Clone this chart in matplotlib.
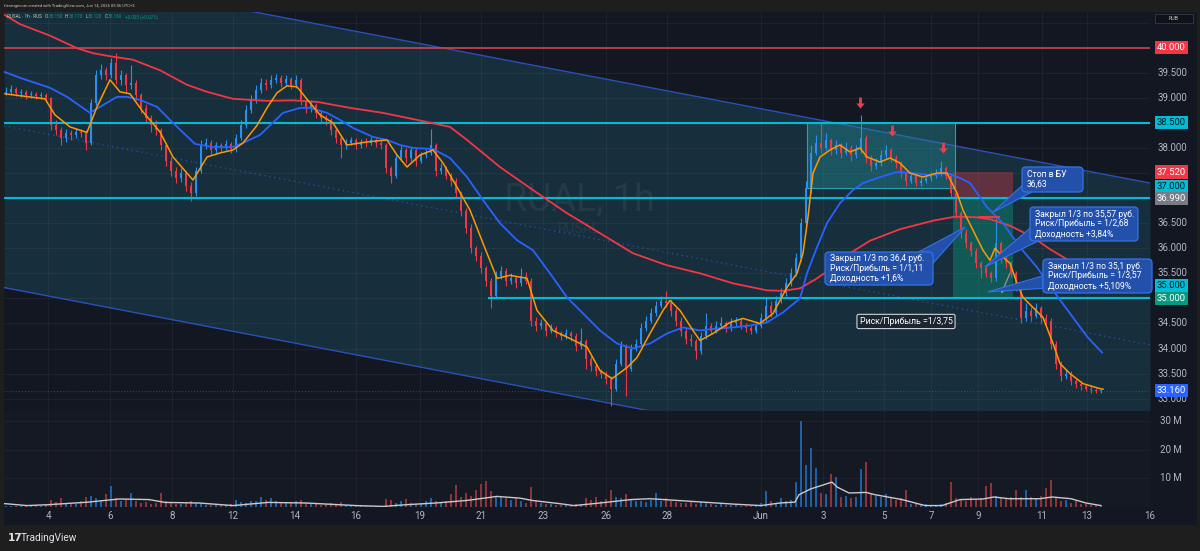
import matplotlib
matplotlib.use("Agg")
import matplotlib.pyplot as plt
import matplotlib.transforms as mtrans
from matplotlib.patches import Rectangle, FancyBboxPatch, Polygon
from matplotlib.path import Path
import numpy as np

plt.rcParams['font.family'] = ['Roboto', 'DejaVu Sans']

# ---------------- data (hourly RUSAL) ----------------
first_open = 39.10
closes = [39.12, 39.18, 39.10, 39.12, 39.05, 39.08, 39.04, 39.06, 39.00,
          38.45, 38.35, 38.20, 38.30, 38.25, 38.32, 38.30, 38.10,
          38.90, 39.45, 39.55, 39.45, 39.70, 39.35, 39.45, 39.25, 39.30,
          39.05, 38.80, 38.60, 38.45, 38.35, 38.05, 37.75, 37.55, 37.40, 37.50, 37.25, 37.10,
          37.55, 38.05, 38.10, 37.95, 38.05, 38.00, 38.08, 37.98,
          38.20, 38.45, 38.75, 38.95, 39.15, 39.30, 39.25, 39.35, 39.40, 39.30, 39.38, 39.25, 39.35,
          38.95, 38.80, 38.85, 38.70, 38.60, 38.55, 38.35, 38.20, 38.05,
          38.10, 38.15, 38.05, 38.12, 38.10, 38.15, 38.10, 38.05,
          37.60, 37.45, 37.80, 37.95, 37.80, 37.95, 37.75, 37.85, 37.90, 38.05,
          37.55, 37.60, 37.45, 37.35, 37.10, 36.75, 36.40, 36.00, 35.85, 35.60, 35.35, 35.05,
          35.45, 35.55, 35.35, 35.40, 35.30, 35.45, 35.35,
          34.55, 34.45, 34.50, 34.35, 34.40, 34.30, 34.25, 34.30, 34.25, 34.05, 34.15,
          33.80, 33.65, 33.55, 33.50, 33.40, 33.20,
          33.70, 34.05, 33.60, 34.00, 34.10, 34.40, 34.55, 34.70, 34.85, 34.95, 34.90, 34.75, 34.55, 34.35,
          34.20, 34.15, 33.95, 34.25, 34.45, 34.35, 34.45, 34.50, 34.40, 34.50, 34.55, 34.45, 34.40, 34.35, 34.45,
          34.60, 34.85, 34.70, 34.95, 35.10, 35.30, 35.50, 35.80,
          36.50, 37.20, 37.90, 38.10, 38.00, 38.15, 37.95, 38.05, 37.90, 38.00, 37.85, 37.95,
          38.20, 37.80, 37.65, 37.70, 37.85, 37.95, 37.80, 37.70, 37.50, 37.35,
          37.45, 37.30, 37.35, 37.40, 37.45, 37.50, 37.60, 37.45,
          37.10, 36.70, 36.30, 36.10, 35.95, 35.70, 35.60, 35.50, 35.40, 36.10, 35.80,
          35.70, 35.50, 35.25, 34.60, 34.75, 34.65, 34.80, 34.60, 34.55, 34.10, 33.70, 33.45, 33.50,
          33.35, 33.30, 33.25, 33.20, 33.18, 33.15, 33.16]
highs = [39.22, 39.25, 39.22, 39.18, 39.15, 39.14, 39.12, 39.12, 39.10,
         39.02, 38.55, 38.42, 38.38, 38.36, 38.40, 38.38, 38.35,
         38.98, 39.55, 39.68, 39.62, 39.80, 39.90, 39.55, 39.50, 39.65,
         39.35, 39.10, 38.88, 38.65, 38.55, 38.40, 38.10, 37.82, 37.62, 37.60, 37.55, 37.32,
         37.62, 38.15, 38.20, 38.15, 38.12, 38.10, 38.15, 38.12,
         38.28, 38.55, 38.85, 39.05, 39.25, 39.40, 39.38, 39.45, 39.48, 39.45, 39.45, 39.42, 39.45,
         39.40, 39.00, 38.95, 38.90, 38.75, 38.65, 38.60, 38.40, 38.25,
         38.18, 38.22, 38.20, 38.18, 38.20, 38.22, 38.20, 38.18,
         38.10, 37.65, 37.88, 38.05, 38.00, 38.02, 38.00, 37.92, 37.98, 38.38,
         38.10, 37.70, 37.65, 37.50, 37.40, 37.15, 36.80, 36.48, 36.05, 35.92, 35.65, 35.40,
         35.55, 35.65, 35.60, 35.50, 35.45, 35.60, 35.52,
         35.40, 34.62, 34.58, 34.55, 34.48, 34.45, 34.35, 34.38, 34.35, 34.30, 34.40,
         34.20, 33.85, 33.70, 33.60, 33.55, 33.45,
         33.80, 34.15, 34.10, 34.10, 34.20, 34.50, 34.65, 34.80, 34.95, 35.05, 35.15, 34.98, 34.80, 34.62,
         34.40, 34.28, 34.20, 34.32, 34.70, 34.50, 34.55, 34.62, 34.55, 34.60, 34.62, 34.60, 34.50, 34.45, 34.52,
         34.70, 35.00, 34.95, 35.05, 35.20, 35.40, 35.60, 35.90,
         36.60, 37.35, 38.05, 38.25, 38.50, 38.30, 38.20, 38.15, 38.10, 38.12, 38.05, 38.05,
         38.65, 38.25, 37.85, 37.80, 37.95, 38.05, 38.00, 37.85, 37.75, 37.55,
         37.52, 37.50, 37.42, 37.48, 37.52, 37.58, 37.75, 37.65,
         37.50, 37.15, 36.75, 36.38, 36.15, 36.00, 35.75, 35.65, 35.55, 36.60, 36.15,
         35.85, 35.75, 35.55, 35.30, 34.90, 34.82, 34.90, 34.85, 34.68, 34.60, 34.15, 33.75, 33.60,
         33.55, 33.40, 33.35, 33.30, 33.25, 33.22, 33.17]
lows = [39.05, 39.08, 39.04, 39.02, 38.98, 39.00, 38.98, 38.98, 38.92,
        38.35, 38.25, 38.05, 38.12, 38.15, 38.20, 38.22, 37.95,
        38.05, 38.85, 39.38, 39.35, 39.40, 39.28, 39.25, 39.12, 39.18,
        38.95, 38.70, 38.50, 38.32, 38.25, 37.95, 37.65, 37.45, 37.30, 37.32, 37.15, 36.95,
        37.05, 37.50, 37.98, 37.88, 37.90, 37.92, 37.95, 37.90,
        37.92, 38.15, 38.40, 38.70, 38.90, 39.10, 39.15, 39.20, 39.30, 39.22, 39.25, 39.18, 39.20,
        38.85, 38.70, 38.72, 38.60, 38.50, 38.45, 38.25, 38.10, 37.80,
        37.98, 38.05, 37.98, 38.00, 38.02, 38.05, 38.02, 37.98,
        37.50, 37.30, 37.40, 37.75, 37.70, 37.75, 37.65, 37.70, 37.80, 37.85,
        37.45, 37.48, 37.38, 37.25, 37.00, 36.65, 36.30, 35.90, 35.75, 35.50, 35.25, 34.80,
        35.00, 35.38, 35.25, 35.28, 35.20, 35.25, 35.28,
        34.45, 34.35, 34.38, 34.25, 34.30, 34.22, 34.18, 34.20, 34.15, 33.95, 34.00,
        33.60, 33.55, 33.45, 33.42, 33.30, 32.85,
        33.15, 33.65, 33.05, 33.55, 33.95, 34.05, 34.35, 34.50, 34.65, 34.80, 34.82, 34.65, 34.45, 34.25,
        34.10, 34.05, 33.80, 33.90, 34.20, 34.28, 34.30, 34.40, 34.32, 34.35, 34.45, 34.38, 34.32, 34.28, 34.30,
        34.40, 34.55, 34.62, 34.65, 34.90, 35.05, 35.25, 35.45,
        35.75, 36.45, 37.10, 37.85, 37.90, 37.95, 37.85, 37.88, 37.80, 37.85, 37.75, 37.80,
        37.90, 37.70, 37.55, 37.58, 37.65, 37.80, 37.72, 37.60, 37.40, 37.25,
        37.30, 37.25, 37.25, 37.30, 37.35, 37.40, 37.45, 37.38,
        37.00, 36.60, 36.20, 36.00, 35.85, 35.60, 35.40, 35.42, 35.32, 35.35, 35.70,
        35.60, 35.42, 35.15, 34.50, 34.55, 34.55, 34.60, 34.50, 34.45, 34.00, 33.60, 33.35, 33.40,
        33.28, 33.22, 33.18, 33.15, 33.12, 33.12, 33.12]
volumes = [0.4, 0.3, 0.3, 0.4, 0.3, 0.2, 0.3, 0.4, 0.6,
           2.5, 1.8, 3.0, 1.5, 1.2, 1.0, 2.0, 3.5,
           4.0, 3.2, 2.5, 4.5, 7.4, 3.0, 2.0, 2.5, 4.8,
           2.0, 1.5, 1.8, 1.2, 1.5, 4.8, 2.0, 1.5, 1.2, 1.0, 1.4, 2.2,
           1.5, 1.2, 0.8, 0.7, 0.6, 0.8, 0.7, 0.9,
           2.6, 1.8, 1.5, 2.0, 2.2, 3.5, 2.5, 3.0, 2.0, 1.5, 1.8, 1.5, 2.0,
           2.5, 1.5, 1.2, 1.0, 0.8, 1.0, 1.5, 1.2, 1.8,
           0.8, 0.6, 0.5, 0.6, 0.4, 0.5, 0.4, 0.5,
           2.8, 2.5, 1.5, 2.0, 2.8, 1.5, 1.2, 1.0, 2.0, 3.0,
           2.0, 1.5, 2.2, 4.5, 7.8, 3.5, 5.0, 4.0, 6.0, 8.0, 9.2, 5.5,
           4.0, 3.5, 3.0, 2.5, 3.2, 2.0, 1.5,
           6.9, 2.5, 1.5, 1.2, 1.0, 0.8, 0.7, 0.8, 0.6, 1.2, 1.0,
           3.0, 2.5, 3.5, 2.0, 2.8, 6.0,
           3.5, 3.0, 4.5, 2.5, 2.0, 2.2, 1.8, 2.5, 4.8, 2.0, 3.0, 2.0, 1.8, 1.5,
           1.5, 2.0, 1.2, 1.8, 1.5, 1.0, 0.8, 1.0, 0.7, 0.8, 0.6, 0.5, 0.5, 0.4, 0.6,
           1.5, 5.5, 2.0, 1.5, 3.0, 2.0, 2.5, 8.6,
           30.0, 14.8, 20.8, 13.6, 5.0, 4.5, 11.6, 10.5, 3.5, 4.0, 3.0, 3.5,
           13.4, 15.7, 5.0, 4.0, 3.5, 4.5, 3.0, 2.5, 3.0, 6.0,
           1.2, 1.0, 0.8, 1.0, 0.7, 0.8, 1.2, 1.5,
           8.7, 3.0, 2.5, 2.0, 3.5, 2.8, 3.0, 7.4, 8.4, 4.0, 3.5,
           3.0, 3.5, 6.0, 3.5, 6.0, 3.5, 3.0, 4.0, 6.6, 9.3, 3.0, 2.0, 2.5,
           1.5, 2.0, 1.2, 1.0, 0.8, 0.6, 0.5]

# moving averages (x = bar index)
ema_fast_x = [-0.2, 7.8, 9.8, 12.8, 16.2, 18.2, 20.8, 22.8, 24.8, 27.4, 30.8, 33.4, 37.4, 40.2, 42.8,
              45.4, 47.4, 50.2, 52.2, 54.2, 56.2, 58.2, 60.8, 62.8, 65.4, 68.2, 72.2, 76.2, 78.2, 80.2,
              82.8, 85.4, 87.4, 90.2, 92.8, 95.4, 98.2, 100.8, 104.2, 106.2, 109.4, 112.8, 116.2, 118.8,
              121.2, 124.2, 126.2, 128.8, 131.4, 132.8, 134.8, 137.4, 138.8, 141.4, 144.8, 147.4, 150.8,
              153.4, 156.2, 158.2, 159.4, 160.4, 161.4, 162.8, 164.8, 166.8, 168.8, 170.8, 172.2, 174.8,
              176.8, 178.8, 180.8, 183.4, 186.2, 188.2, 190.2, 191.4, 193.4, 195.4, 196.8, 197.8, 199.4,
              200.8, 202.2, 203.4, 205.4, 207.4, 209.4, 210.8, 212.8, 215.4, 218.8, 219.4]
ema_fast_y = [39.08, 38.98, 38.66, 38.42, 38.31, 38.82, 39.36, 39.12, 39.08, 38.72, 38.32, 37.82, 37.36,
              37.82, 37.90, 37.96, 38.10, 38.45, 38.80, 39.10, 39.24, 39.22, 38.90, 38.66, 38.50, 38.06,
              38.12, 38.16, 37.86, 37.62, 37.86, 37.96, 37.70, 37.22, 36.76, 36.10, 35.40, 35.46, 35.40,
              34.76, 34.36, 34.20, 34.03, 33.56, 33.40, 33.62, 33.82, 34.30, 34.76, 34.96, 34.76, 34.36,
              34.16, 34.30, 34.52, 34.60, 34.50, 34.70, 35.22, 35.50, 35.90, 36.62, 37.50, 37.82, 37.96,
              38.06, 37.92, 38.00, 37.82, 37.72, 37.80, 37.70, 37.50, 37.42, 37.50, 37.50, 37.10, 36.76,
              36.36, 35.96, 35.76, 36.00, 35.82, 35.70, 35.30, 35.02, 34.82, 34.62, 34.10, 33.70, 33.50,
              33.30, 33.20, 33.19]
ma_mid_x = [-0.4, 2.8, 8.8, 12.2, 16.8, 18.8, 22.2, 24.2, 26.8, 30.2, 33.4, 37.8, 41.4, 45.4, 47.4, 50.8,
            55.4, 58.8, 60.8, 64.2, 66.8, 69.4, 73.4, 76.2, 78.8, 81.4, 85.4, 88.8, 92.2, 95.4, 98.8,
            102.2, 105.4, 108.8, 112.2, 115.4, 118.8, 122.2, 125.4, 128.8, 132.2, 135.4, 138.8, 142.2,
            145.4, 148.8, 152.2, 155.4, 158.8, 160.2, 162.2, 164.2, 166.8, 169.4, 171.4, 174.8, 178.2,
            181.4, 184.8, 188.2, 190.8, 192.8, 196.2, 199.4, 202.8, 206.2, 209.4, 212.8, 216.2, 219.2]
ma_mid_y = [39.52, 39.40, 39.20, 39.02, 38.70, 38.82, 39.02, 39.02, 38.96, 38.82, 38.50, 38.08, 38.02,
            38.02, 38.10, 38.26, 38.70, 38.80, 38.80, 38.70, 38.56, 38.40, 38.22, 38.16, 38.06, 38.00,
            37.98, 37.80, 37.42, 36.96, 36.50, 36.16, 35.96, 35.50, 35.02, 34.70, 34.36, 34.10, 34.00,
            34.10, 34.30, 34.42, 34.36, 34.40, 34.42, 34.46, 34.52, 34.72, 35.00, 35.50, 36.02, 36.50,
            36.90, 37.16, 37.30, 37.42, 37.52, 37.50, 37.46, 37.50, 37.40, 37.30, 36.82, 36.50, 36.02,
            35.62, 35.16, 34.70, 34.24, 33.92]
ma_slow_x = [-0.4, 2.8, 8.8, 14.2, 17.4, 20.8, 25.4, 30.8, 36.2, 40.2, 45.4, 52.2, 57.4, 62.2, 68.8, 75.4,
             82.2, 88.8, 92.2, 98.8, 105.4, 112.2, 118.8, 125.4, 132.2, 138.8, 145.4, 152.2, 155.4,
             158.8, 162.2, 165.4, 168.8, 172.8, 178.8, 185.4, 189.8, 193.8, 196.8, 200.8, 205.4, 208.8,
             212.2, 215.8, 219.4]
ma_slow_y = [40.66, 40.47, 40.24, 39.99, 39.89, 39.83, 39.76, 39.55, 39.26, 39.12, 38.98, 38.94, 38.95,
             38.92, 38.80, 38.70, 38.56, 38.42, 38.16, 37.62, 37.16, 36.70, 36.30, 35.90, 35.66, 35.50,
             35.30, 35.16, 35.15, 35.20, 35.40, 35.62, 35.90, 36.15, 36.38, 36.55, 36.63, 36.62, 36.58,
             36.45, 36.22, 35.98, 35.78, 35.52, 35.32]
vol_ma_x = [-0.4, 4.2, 8.4, 16.4, 22.6, 28.6, 31.8, 38.6, 45.4, 52.4, 60.0, 70.0, 75.4, 80.0, 86.0, 92.2,
            98.2, 102.8, 105.2, 110.6, 113.6, 118.8, 125.0, 128.8, 134.2, 145.6, 151.0, 154.8, 157.8,
            158.6, 160.9, 165.2, 166.2, 168.6, 172.0, 173.8, 179.2, 183.8, 187.2, 190.8, 195.4, 197.6,
            200.6, 206.8, 209.2, 213.0, 216.0, 219.0]
vol_ma_y = [1.2, 0.5, 0.8, 1.7, 2.8, 2.6, 1.6, 1.4, 0.5, 1.6, 1.4, 0.5, 0.2, 0.8, 1.4, 2.3, 3.7, 3.1, 2.3,
            1.2, 0.5, 1.4, 2.6, 2.9, 2.3, 1.0, 0.5, 1.4, 1.7, 4.3, 6.3, 8.7, 7.0, 4.9, 5.1, 4.3, 2.6, 0.5,
            0.5, 2.6, 2.8, 3.5, 2.9, 2.9, 3.5, 2.9, 1.4, 0.5]

# drawings
channel_x = [49.8, 228.8]
channel_top = [40.71, 37.30]
channel_width = 6.45
hlevels_full = [38.5, 37.0]
hlevel_ray = (96.4, 35.0)
box_range = (160.2, 189.8, 37.2, 38.5)
pos_x = (189.4, 201.4)
pos_stop, pos_entry, pos_target = 37.52, 36.99, 35.0
be_stop = (194.4, 198.8, 36.63)
marks_x = [170.8, 177.2, 187.4]
marks_y = [38.88, 38.32, 37.98]

callouts = [
    # (x0, x1, y0, y1, base points, apex, text)
    (203.2, 215.4, 37.122, 37.621, [(203.2, 37.25), (205.2, 37.122)], (197.4, 36.72),
     "Стоп в БУ\n36,63"),
    (204.8, 226.4, 36.145, 36.823, [(204.8, 36.40), (206.5, 36.145)], (195.8, 35.63),
     "Закрыл 1/3 по 35,57 руб.\nРиск/Прибыль = 1/2,68\nДоходность +3,84%"),
    (207.4, 229.2, 35.108, 35.786, [(207.4, 35.45), (207.4, 35.20)], (196.4, 35.13),
     "Закрыл 1/3 по 35,1 руб.\nРиск/Прибыль = 1/3,57\nДоходность +5,109%"),
    (163.8, 185.4, 35.267, 35.925, [(182.5, 35.925), (185.4, 35.70)], (191.8, 36.42),
     "Закрыл 1/3 по 36,4 руб.\nРиск/Прибыль = 1/1,11\nДоходность +1,6%"),
]

price_ticks = [39.5, 39.0, 38.0, 36.5, 36.0, 35.5, 34.5, 34.0, 33.5, 33.0]
price_tags = [(40.0, '40.000', '#f23645', 'white'), (38.5, '38.500', '#00bcd4', '#131722'),
              (37.52, '37.520', '#f23645', 'white'), (37.228, '37.000', '#00bcd4', '#131722'),
              (36.99, '36.990', '#787b86', 'white'), (35.253, '35.000', '#00bcd4', '#131722'),
              (35.0, '35.000', '#089981', 'white'), (33.16, '33.160', '#2962ff', 'white')]
tick_pos = [8.4, 20.8, 33.2, 45.4, 57.8, 70.0, 82.8, 95.0, 107.4, 120.0, 132.2, 151.0, 163.4,
            175.6, 185.0, 194.4, 207.2, 216.2, 228.8]
tick_lab = ['4', '6', '8', '12', '14', '16', '19', '21', '23', '26', '28', 'Jun', '3', '5', '7',
            '9', '11', '13', '16']

# ---------------- figure ----------------
W, H = 1200, 551
BG = '#131722'


def fbox(x0, y0, x1, y1):
    return [x0 / W, 1 - y1 / H, (x1 - x0) / W, (y1 - y0) / H]


fig = plt.figure(figsize=(W / 100, H / 100), dpi=100, facecolor='#1e1e1e')
fig.patches.append(Rectangle((4 / W, 1 - 525 / H), 1193 / W, 513 / H, transform=fig.transFigure,
                             fc=BG, ec='none', zorder=-5))
ax = fig.add_axes(fbox(4, 12, 1150, 410))
vax = fig.add_axes(fbox(4, 411, 1150, 507))
for a in (ax, vax):
    a.set_xlim(-0.4, 228.8)
    a.set_xticks([])
    a.set_yticks([])
    for s in a.spines.values():
        s.set_visible(False)
ax.set_facecolor(BG)
vax.set_facecolor('#151924')
ax.set_ylim(32.774, 40.712)
vax.set_ylim(0, 33.57)

# channel
xs = np.array([-0.4, 228.8])
slope = (channel_top[1] - channel_top[0]) / (channel_x[1] - channel_x[0])
upper = channel_top[0] + slope * (xs - channel_x[0])
lower = upper - channel_width
ax.fill_between(xs, lower, upper, color='#172f3c', lw=0, zorder=0.2)
ax.plot(xs, upper, color='#2b4fb5', lw=1, zorder=1)
ax.plot(xs, lower, color='#2b4fb5', lw=1, zorder=1)
ax.plot(xs, (upper + lower) / 2, color='#2b4fb5', lw=0.9, ls=(0, (1, 3)), zorder=1)

# grid
for p in tick_pos:
    ax.axvline(p, color=(1, 1, 1, 0.045), lw=0.8, zorder=0.5)
    vax.axvline(p, color=(1, 1, 1, 0.045), lw=0.8, zorder=0.5)
for p in np.arange(33.0, 40.6, 0.5):
    ax.axhline(p, color=(1, 1, 1, 0.045), lw=0.8, zorder=0.5)
for v in (10, 20, 30):
    vax.axhline(v, color=(1, 1, 1, 0.045), lw=0.8, zorder=0.5)

# watermark
ax.text(114.6, 36.96, 'RUAL, 1h', fontsize=27, color=(1, 1, 1, 0.06), ha='center', va='center', zorder=1)
ax.text(114.6, 36.39, 'RUSAL', fontsize=10, color=(1, 1, 1, 0.06), ha='center', va='center', zorder=1)

# consolidation box and short position
bx0, bx1, by0, by1 = box_range
ax.add_patch(Rectangle((bx0, by0), bx1 - bx0, by1 - by0, fc=(0.14, 0.55, 0.6, 0.42),
                       ec='#2a9fb0', lw=0.8, zorder=2))
ax.add_patch(Rectangle((pos_x[0], pos_entry), pos_x[1] - pos_x[0], pos_stop - pos_entry,
                       fc=(0.95, 0.21, 0.27, 0.34), ec='none', zorder=2))
ax.add_patch(Rectangle((pos_x[0], pos_target), pos_x[1] - pos_x[0], pos_entry - pos_target,
                       fc=(0.03, 0.6, 0.5, 0.4), ec='none', zorder=2))

# horizontal levels
ax.axhline(40.0, color='#d0424d', lw=1.2, zorder=5)
for lv in hlevels_full:
    ax.axhline(lv, color='#00bcd4', lw=1.5, zorder=5)
ax.hlines(hlevel_ray[1], hlevel_ray[0], 228.8, color='#00bcd4', lw=1.5, zorder=5)
ax.axhline(closes[-1], color='#2962ff', lw=0.7, ls=(0, (1, 2)), alpha=0.6, zorder=1)

# candles
n = len(closes)
idx = np.arange(n)
c = np.array(closes)
o = np.r_[first_open, c[:-1]]
up = c >= o
ccol = np.where(up, '#2a8ff0', '#f23645')
ax.vlines(idx, lows, highs, colors=ccol, lw=0.8, zorder=4)
ax.bar(idx, np.maximum(np.abs(c - o), 0.015), bottom=np.minimum(o, c), width=0.5,
       color=ccol, lw=0, zorder=4)

# moving averages
ax.plot(ma_slow_x, ma_slow_y, color='#f23645', lw=1.3, zorder=6)
ax.plot(ma_mid_x, ma_mid_y, color='#2962ff', lw=1.3, zorder=6)
ax.plot(ema_fast_x, ema_fast_y, color='#ff9800', lw=1.1, zorder=6)

# breakeven stop + gray arrow
ax.hlines(be_stop[2], be_stop[0], be_stop[1], color='#f23645', lw=1.5, zorder=7)
ax.annotate('', xy=(198.8, 35.04), xytext=(201.0, 35.55),
            arrowprops=dict(arrowstyle='->', color='#a88f8f', lw=0.9, mutation_scale=7), zorder=7)

# red arrow marks
arrow_path = Path([(-0.2, 1.0), (0.2, 1.0), (0.2, 0.15), (0.6, 0.15), (0.0, -0.6),
                   (-0.6, 0.15), (-0.2, 0.15), (-0.2, 1.0)],
                  [Path.MOVETO] + [Path.LINETO] * 6 + [Path.CLOSEPOLY])
ax.plot(marks_x, marks_y, ls='none', marker=arrow_path, ms=10, color='#e5404e', mec='none', zorder=8)

# callouts
for x0, x1, y0, y1, base, apex, txt in callouts:
    ax.add_patch(Polygon(base + [apex], closed=True, fc='#2250aa', ec='#3572e6', lw=0.8,
                         zorder=8, clip_on=False))
    ax.add_patch(FancyBboxPatch((x0, y0), x1 - x0, y1 - y0,
                                boxstyle='round,pad=0,rounding_size=0.8', mutation_aspect=0.1,
                                fc='#2250aa', ec='#3572e6', lw=0.9, zorder=9, clip_on=False))
    ax.text(x0 + 1.0, (y0 + y1) / 2, txt, color='white', fontsize=6.2, va='center', ha='left',
            linespacing=1.1, zorder=10, clip_on=False)
ax.text(180.0, 34.54, 'Риск/Прибыль =1/3,75', color='white', fontsize=6.3, ha='center', va='center',
        zorder=10, bbox=dict(boxstyle='round,pad=0.3,rounding_size=0.2', fc='#1b2631', ec='#cfd3da', lw=0.8))

# volume
vcol = np.where(up, '#1f5fa6', '#8c343a')
vax.bar(idx, volumes, width=0.55, color=vcol, lw=0, zorder=2)
vax.plot(vol_ma_x, vol_ma_y, color='#c9c9c9', lw=1, zorder=3)

# price axis
tr = mtrans.blended_transform_factory(ax.transAxes, ax.transData)
for p in price_ticks:
    ax.text((1158 - 4) / 1146, p, f'{p:.3f}', transform=tr, color='#b2b5be', fontsize=7,
            va='center', ha='left', clip_on=False, zorder=10)
for p, t, bg, fg in price_tags:
    ax.text((1157 - 4) / 1146, p, t, transform=tr, color=fg, fontsize=6.8, va='center', ha='left',
            clip_on=False, zorder=11, bbox=dict(boxstyle='square,pad=0.22', fc=bg, ec='none'))
trv = mtrans.blended_transform_factory(vax.transAxes, vax.transData)
for v in (10, 20, 30):
    vax.text((1160 - 4) / 1146, v, f'{v} M', transform=trv, color='#b2b5be', fontsize=7,
             va='center', ha='left', clip_on=False)

# time axis
trt = mtrans.blended_transform_factory(vax.transData, vax.transAxes)
for p, l in zip(tick_pos, tick_lab):
    vax.text(p, -9 / 96, l, transform=trt, ha='center', va='center', color='#b2b5be',
             fontsize=7, clip_on=False)

# header, legend, badges
fig.text(4 / W, 1 - 6 / H, 'fierangecom created with TradingView.com, Jun 14, 2026 03:06 UTC+3',
         fontsize=3.0, color='#c8c8c8', va='center')
renderer = fig.canvas.get_renderer()
legend_parts = [('RUSAL · 1h · RUS', '#c8c8c8', 3.0), ('O', '#c8c8c8', 0.3), ('33.150', '#089981', 2.5),
                ('H', '#c8c8c8', 0.3), ('33.170', '#089981', 2.5), ('L', '#c8c8c8', 0.3),
                ('33.120', '#089981', 2.5), ('C', '#c8c8c8', 0.3), ('33.160', '#089981', 2.5),
                ('+0.005 (+0.02%)', '#089981', 0)]
lx = 7.0
for t, col, gap in legend_parts:
    tt = fig.text(lx / W, 1 - 17 / H, t, fontsize=3.3, color=col, va='center')
    lx = tt.get_window_extent(renderer).x1 + gap
fig.patches.append(Rectangle((1155 / W, 1 - 23 / H), 38 / W, 9 / H, transform=fig.transFigure,
                             fc='#0f1218', ec='#363a45', lw=0.6))
fig.text(1174 / W, 1 - 18.5 / H, 'RUB', fontsize=3.8, color='#c8c8c8', ha='center', va='center')
fig.text(8 / W, 1 - 538 / H, '17', fontsize=7.5, color='#e0e3eb', weight='bold', va='center',
         family='DejaVu Sans')
fig.text(21 / W, 1 - 538 / H, 'TradingView', fontsize=7.3, color='#e0e3eb', va='center')

fig.savefig('out.png', dpi=100, facecolor=fig.get_facecolor())
